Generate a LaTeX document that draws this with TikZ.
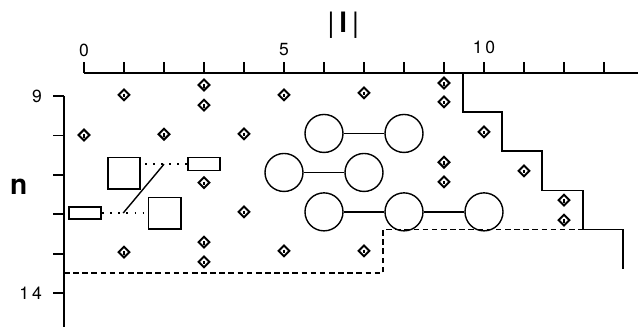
\documentclass[tikz,border=0pt]{standalone}
\usepackage{fontspec}
\setmainfont{TeX Gyre Heros}
\usetikzlibrary{shapes.geometric,positioning,calc}

\begin{document}
\begin{tikzpicture}[
    x=1cm, y=-0.985cm,
    font=\fontsize{12.5}{14}\selectfont,
    ax/.style={line width=1.3pt},
    lev/.style={draw, diamond, aspect=1, minimum size=0.29cm, inner sep=0pt, line width=1.4pt,
      path picture={\draw[line width=1pt] ([yshift=0.8pt]path picture bounding box.center) -- ++(0pt,-2.6pt);}},
    orb/.style={draw, circle, minimum size=0.95cm, inner sep=0pt, line width=1pt},
    blk/.style={draw, rectangle, inner sep=0pt, line width=1pt},
    link/.style={line width=1pt},
    dotlink/.style={line width=1.4pt, dash pattern=on 1.3pt off 4.5pt},
    bound/.style={line width=1.1pt},
  ]
    \useasboundingbox (-2.1,6.563) rectangle (13.85,14.863);

    % axes
    \coordinate (t0) at (0,8.416);
    \coordinate (tend) at (13.85,8.416);
    \draw[ax] (t0) -- (tend);
    \foreach \l in {0,...,13}
      \draw[ax] (\l,8.416) -- (\l,8.14);
    \node (l0) at (0,7.83) {0};
    \node (l5) at (5,7.83) {5};
    \node (l10) at (10,7.77) {1\,0};
    \node[font=\fontsize{20}{24}\selectfont] (lab) at (6.48,7.2) {|\,\textbf{l}\,|};

    \coordinate (s9) at (-0.5,9);
    \coordinate (send) at (-0.5,14.863);
    \draw[ax] (s9) -- (send);
    \foreach \n in {9,...,14}
      \draw[ax] (-0.5,\n) -- (-0.78,\n);
    \node[anchor=east] (n9) at (-0.93,9) {9};
    \node[anchor=east] (n14) at (-0.93,14) {1\,4};
    \node[font=\fontsize{20}{24}\selectfont\bfseries] (nlab) at (-1.63,11.3) {n};

    % levels
    \foreach \l/\n [count=\i] in {1/8.97, 3/8.72, 3/9.23, 5/8.97, 7/8.92, 9/8.67, 9/9.15,
        0/9.99, 2/9.97, 4/9.96, 10/9.91, 9/10.68, 9/11.18, 3/11.2, 11/10.9,
        4/11.94, 12/11.64, 12/12.15, 1/12.96, 3/12.71, 3/13.21, 5/12.93, 7/12.93}
      \node[lev] (d\i) at (\l,\n) {};

    % clusters
    \node[orb] (a1) at (6,9.95) {};
    \node[orb] (a2) at (8,9.95) {};
    \node[orb] (b1) at (5,10.94) {};
    \node[orb] (b2) at (7,10.94) {};
    \node[orb] (c1) at (6,11.94) {};
    \node[orb] (c2) at (8,11.94) {};
    \node[orb] (c3) at (10,11.94) {};
    \draw[link] (a1) -- (a2);
    \draw[link] (b1) -- (b2);
    \draw[link] (c1) -- (c2);
    \draw[link] (c2) -- (c3);

    % boxes
    \node[blk, minimum width=0.8cm, minimum height=0.79cm] (sq1) at (1,10.96) {};
    \node[blk, minimum width=0.8cm, minimum height=0.32cm] (rt1) at (3,10.73) {};
    \node[blk, minimum width=0.82cm, minimum height=0.79cm] (sq2) at (2.02,11.97) {};
    \node[blk, minimum width=0.8cm, minimum height=0.3cm] (rt2) at (0.03,11.97) {};
    \draw[dotlink] (rt1.west) -- (rt1.west -| sq1.east);
    \draw[dotlink] (rt2.east) -- (sq2.west);
    \coordinate (ja) at (0.98,11.97);
    \coordinate (jb) at (2,10.73);
    \draw[link] (ja) -- (jb);

    % boundaries
    \coordinate (p0) at (9.48,8.416);
    \coordinate (pe) at (13.48,13.39);
    \draw[bound] (p0) |- (10.45,9.4) |- (11.45,10.4) |- (12.48,11.4) |- (13.48,12.39) -- (pe);
    \coordinate (q0) at (-0.5,13.49);
    \coordinate (qe) at (12.48,12.39);
    \draw[bound, dashed, dash pattern=on 4pt off 2.5pt] (q0) -| (7.48,12.39) -- (qe);
  \end{tikzpicture}
\end{document}
